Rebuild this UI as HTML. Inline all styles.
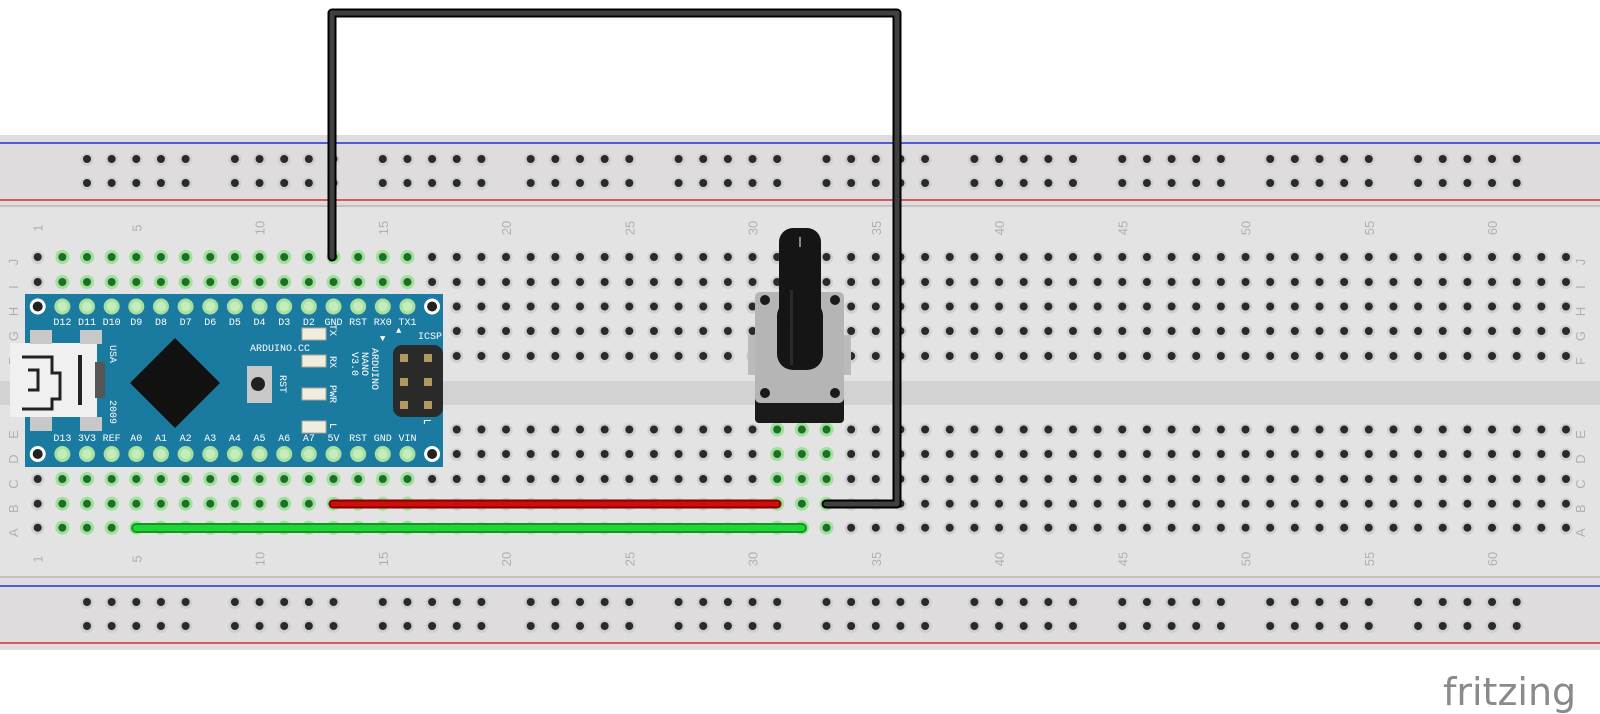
<!DOCTYPE html>
<html><head><meta charset="utf-8"><style>
html,body{margin:0;padding:0;background:#fff;width:1600px;height:714px;overflow:hidden}
svg{display:block}
</style></head><body>
<svg id="s" width="1600" height="714" xmlns="http://www.w3.org/2000/svg" font-family="Liberation Mono, monospace">
<rect x="0" y="135" width="1600" height="515" fill="#dedcdc"/>
<rect x="0" y="207" width="1600" height="370" fill="#e4e3e3"/>
<rect x="0" y="381" width="1600" height="24" fill="#d3d2d2"/>
<line x1="0" y1="143" x2="1600" y2="143" stroke="#2230d0" stroke-width="1.5"/>
<line x1="0" y1="200" x2="1600" y2="200" stroke="#d03030" stroke-width="1.5"/>
<line x1="0" y1="206" x2="1600" y2="206" stroke="#b8b8b8" stroke-width="1.5"/>
<line x1="0" y1="577" x2="1600" y2="577" stroke="#b8b8b8" stroke-width="1.5"/>
<line x1="0" y1="586" x2="1600" y2="586" stroke="#2230d0" stroke-width="1.5"/>
<line x1="0" y1="643" x2="1600" y2="643" stroke="#d03030" stroke-width="1.5"/>
<g id="labels" fill="#b0b0b0" font-family="Liberation Sans, sans-serif" font-size="13"></g>
<g id="holes"></g>
<text x="1443" y="705" font-family="DejaVu Sans, Liberation Sans, sans-serif" font-size="38" fill="#8a8a8a">fritzing</text>

<!-- Arduino -->
<rect x="25" y="294" width="418" height="173" fill="#1b7aa0"/>
<g id="ard"></g>
<rect x="10" y="343" width="87" height="74" fill="#f0f0f0"/>
<rect x="30" y="330" width="22" height="14" fill="#c8c8c8"/><rect x="80" y="330" width="22" height="14" fill="#c8c8c8"/>
<rect x="30" y="417" width="22" height="14" fill="#c8c8c8"/><rect x="80" y="417" width="22" height="14" fill="#c8c8c8"/>
<path d="M22 357 h30 v16 h8 v26 h-8 v10 h-30 M28 370 h10 v20 h-10" fill="none" stroke="#222" stroke-width="3"/>
<rect x="78" y="355" width="4" height="50" fill="#222"/>
<rect x="95" y="362" width="10" height="36" fill="#555"/>
<polygon points="175,338 220,383 175,428 130,383" fill="#111"/>
<rect x="247" y="366" width="25" height="37" fill="#c8c8c8"/><circle cx="258" cy="384" r="7" fill="#222"/>
<g fill="#f0ece0" stroke="#b0a890"><rect x="302" y="328" width="24" height="12"/><rect x="302" y="355" width="24" height="12"/><rect x="302" y="388" width="24" height="12"/><rect x="302" y="421" width="24" height="12"/></g>
<rect x="393" y="345" width="50" height="72" rx="9" fill="#2a2a2a"/>
<g fill="#b09a60"><rect x="400" y="354" width="8" height="8"/><rect x="424" y="354" width="8" height="8"/><rect x="400" y="378" width="8" height="8"/><rect x="424" y="378" width="8" height="8"/><rect x="400" y="401" width="8" height="8"/><rect x="424" y="401" width="8" height="8"/></g>
<g fill="#fff" font-size="10">
<text x="250" y="351">ARDUINO.CC</text>
<text x="418" y="339">ICSP</text>
<text transform="translate(110,345) rotate(90)">USA</text>
<text transform="translate(110,400) rotate(90)">2009</text>
<text transform="translate(280,375) rotate(90)">RST</text>
<text transform="translate(330,324) rotate(90)">TX</text>
<text transform="translate(330,356) rotate(90)">RX</text>
<text transform="translate(330,385) rotate(90)">PWR</text>
<text transform="translate(330,423) rotate(90)">L</text>
<text transform="translate(372,348) rotate(90)">ARDUINO</text>
<text transform="translate(362,352) rotate(90)">NANO</text>
<text transform="translate(352,352) rotate(90)">V3.0</text>
<text x="423" y="425" font-size="14">⌐</text>
<text x="380" y="341" font-size="9">▼</text><text x="396" y="333" font-size="9">▲</text>
</g>

<!-- Potentiometer -->
<rect x="748" y="335" width="8" height="40" fill="#bbb"/><rect x="843" y="335" width="8" height="40" fill="#bbb"/>
<rect x="772" y="405" width="10" height="18" fill="#aaa"/><rect x="797" y="405" width="10" height="18" fill="#aaa"/><rect x="821" y="405" width="10" height="18" fill="#aaa"/>
<rect x="755" y="395" width="89" height="28" rx="4" fill="#1a1a1a"/>
<rect x="755" y="292" width="89" height="111" rx="5" fill="#b5b5b5"/>
<circle cx="765" cy="300" r="5" fill="#1a1a1a"/><circle cx="835" cy="300" r="5" fill="#1a1a1a"/>
<circle cx="765" cy="393" r="5" fill="#1a1a1a"/><circle cx="835" cy="393" r="5" fill="#1a1a1a"/>
<rect x="777" y="300" width="46" height="70" rx="16" fill="#151515"/>
<rect x="779" y="228" width="42" height="100" rx="14" fill="#151515"/>
<rect x="799" y="237" width="2" height="10" fill="#888"/>
<rect x="790" y="290" width="3" height="75" fill="#2a2a2a"/>

<!-- wires -->
<g fill="none" stroke-linecap="round" stroke-linejoin="round">
<polyline points="332,257 332,13 897,13 897,504 826,504" stroke="#000" stroke-width="9"/>
<polyline points="332,257 332,13 897,13 897,504 826,504" stroke="#404040" stroke-width="5"/>
<line x1="333" y1="504" x2="777" y2="504" stroke="#8a0000" stroke-width="9"/>
<line x1="333" y1="504" x2="777" y2="504" stroke="#cc0e0e" stroke-width="5"/>
<line x1="136" y1="528" x2="802" y2="528" stroke="#0d9a1f" stroke-width="10"/>
<line x1="136" y1="528" x2="802" y2="528" stroke="#22d43a" stroke-width="6"/>
</g>
<script>
(function(){
var NS="http://www.w3.org/2000/svg",H=document.getElementById('holes'),L=document.getElementById('labels'),A=document.getElementById('ard');
function el(p,t,a){var e=document.createElementNS(NS,t);for(var k in a)e.setAttribute(k,a[k]);p.appendChild(e);return e;}
function cx(c){return 37.7+(c-1)*24.65;}
var rows={J:257,I:282,H:306.5,G:331,F:356,E:429.5,D:454,C:479,B:503.7,A:527.7};
function hole(x,y,g){
 if(g){el(H,'circle',{cx:x,cy:y,r:7,fill:'#9fe09a'});el(H,'circle',{cx:x,cy:y,r:4,fill:'#1e6e2a'});}
 else{el(H,'circle',{cx:x,cy:y+0.5,r:6.5,fill:'#cfcfcf'});el(H,'circle',{cx:x,cy:y,r:4,fill:'#2a2a2a'});}
}
function isGreen(r,c){
 if((r=='J'||r=='I')&&c>=2&&c<=16)return true;
 if((r=='C'||r=='B'||r=='A')&&c>=2&&c<=16)return true;
 if('EDCBA'.indexOf(r)>=0&&c>=31&&c<=33)return true;
 return false;}
for(var r in rows){for(var c=1;c<=63;c++){
 if(c<=17&&(r=='H'||r=='G'||r=='F'||r=='E'||r=='D'))continue;
 if(c>=31&&c<=33&&(r=='H'||r=='G'||r=='F'))continue;
 hole(cx(c),rows[r],isGreen(r,c));}
 var t=el(L,'text',{transform:'translate(1585,'+(rows[r]+5)+') rotate(-90)','text-anchor':'middle'});t.textContent=r;
 var t2=el(L,'text',{transform:'translate(18,'+(rows[r]+5)+') rotate(-90)','text-anchor':'middle'});t2.textContent=r;}
[159,183,602,626].forEach(function(y){for(var g=0;g<10;g++)for(var i=0;i<5;i++)hole(cx(3+g*6+i),y,false);});
[1,5,10,15,20,25,30,35,40,45,50,55,60].forEach(function(n){
 [228,559].forEach(function(y){var t=el(L,'text',{transform:'translate('+(cx(n)+5)+','+y+') rotate(-90)','text-anchor':'middle'});t.textContent=n;});});
var top=['D12','D11','D10','D9','D8','D7','D6','D5','D4','D3','D2','GND','RST','RX0','TX1'];
var bot=['D13','3V3','REF','A0','A1','A2','A3','A4','A5','A6','A7','5V','RST','GND','VIN'];
[[306.5,top,325],[454,bot,441]].forEach(function(q){
 [1,17].forEach(function(c){el(A,'circle',{cx:cx(c),cy:q[0],r:8,fill:'#fff'});el(A,'circle',{cx:cx(c),cy:q[0],r:5,fill:'#222'});});
 for(var i=0;i<15;i++){var x=cx(i+2);
  el(A,'circle',{cx:x,cy:q[0],r:8,fill:'#a8e0a0'});el(A,'circle',{cx:x,cy:q[0],r:5,fill:'#c4ecbc'});
  var t=el(A,'text',{x:x,y:q[2],'text-anchor':'middle',fill:'#fff','font-size':'10'});t.textContent=q[1][i];}
});
})();
</script>
</svg>
</body></html>
